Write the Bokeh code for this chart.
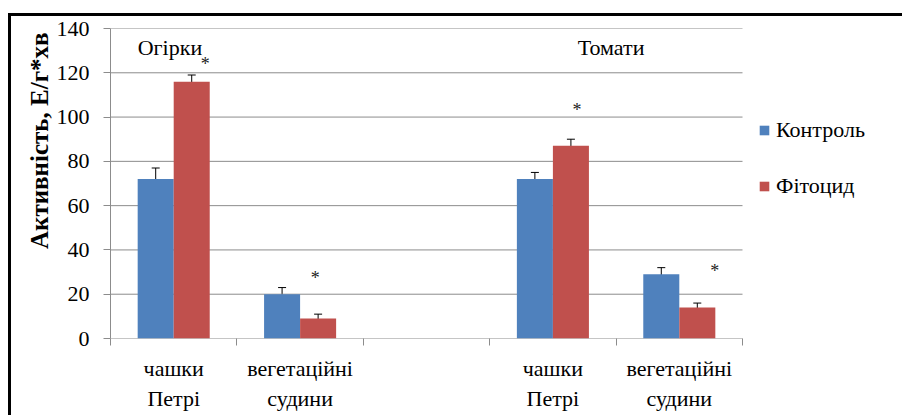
from bokeh.plotting import figure
from bokeh.models import (FixedTicker, Range1d, Whisker, ColumnDataSource, Legend,
                          LegendItem, Title, TeeHead, Label)
from bokeh.embed import file_html
from bokeh.resources import INLINE

# ---- data ----
groups = ["Огірки", "Томати"]
sites = ["чашки\nПетрі", "вегетаційні\nсудини"]
slots = [0, 1, 3, 4]                      # category slots (slot 2 is empty)
n_slots = 5
control = [72, 20, 72, 29]
control_err = [5, 3, 3, 3]
phyto = [116, 9, 87, 14]
phyto_err = [3, 2, 3, 2]
star_y = [124, 27.5, 103, 30.5]
star_dx = [0.25, 0.12, 0.19, 0.28]      # asterisk x within slot (relative to slot centre)
y_ticks = [0, 20, 40, 60, 80, 100, 120, 140]

FONT = "Liberation Serif"
BLUE = "#4F81BD"
RED = "#C0504D"
GRID = "#8C8C8C"

W = 0.285
centers = [s + 0.5 for s in slots]
cx = [c - W / 2 for c in centers]
rx = [c + W / 2 for c in centers]

p = figure(width=894, height=402, output_backend="svg", toolbar_location=None,
           x_range=Range1d(0, n_slots * 795 / 632), y_range=Range1d(0, 140),
           min_border_left=99, min_border_right=0, min_border_top=12,
           min_border_bottom=80)
p.margin = (13, 0, 0, 8)
p.styles = {"border-top": "3px solid black", "border-left": "3px solid black"}
p.outline_line_color = None
p.background_fill_color = "white"

p.segment(x0=[0] * len(y_ticks), x1=[n_slots] * len(y_ticks), y0=y_ticks, y1=y_ticks,
          line_color=GRID, line_width=1)

src_c = ColumnDataSource(dict(x=cx, top=control, up=[v + e for v, e in zip(control, control_err)],
                              lo=[v - e for v, e in zip(control, control_err)]))
src_r = ColumnDataSource(dict(x=rx, top=phyto, up=[v + e for v, e in zip(phyto, phyto_err)],
                              lo=[v - e for v, e in zip(phyto, phyto_err)]))

bc = p.vbar(x="x", top="top", width=W, bottom=0, source=src_c, fill_color=BLUE, line_color=None)
br = p.vbar(x="x", top="top", width=W, bottom=0, source=src_r, fill_color=RED, line_color=None)

for s in (src_c, src_r):
    wk = Whisker(base="x", upper="up", lower="lo", source=s, line_color="black", line_width=1,
                 upper_head=TeeHead(size=8, line_color="black", line_width=1),
                 lower_head=TeeHead(size=8, line_color="black", line_width=1))
    p.add_layout(wk)

# asterisks (significance marks)
for c, d, sy in zip(centers, star_dx, star_y):
    p.add_layout(Label(x=c + d, y=sy, text="*", text_font=FONT, text_font_size="18px",
                       text_align="center", text_baseline="middle", text_color="#222222"))

# group labels
grp_x = [0.47, 3.96]
for gx, g in zip(grp_x, groups):
    p.add_layout(Label(x=gx, y=131.5, text=g, text_font=FONT, text_font_size="22px",
                       text_align="center", text_baseline="middle", text_color="black"))

p.yaxis.ticker = FixedTicker(ticks=y_ticks)
p.yaxis.axis_line_color = GRID
p.yaxis.major_tick_line_color = GRID
p.yaxis.major_tick_out = 7
p.yaxis.major_tick_in = 0
p.yaxis.minor_tick_line_color = None
p.yaxis.major_label_text_font = FONT
p.yaxis.major_label_text_font_size = "22px"
p.yaxis.major_label_text_color = "black"
p.yaxis.major_label_standoff = 14

label_pos = [0.5, 1.5, 3.5, 4.5]
p.xaxis.ticker = FixedTicker(ticks=label_pos, minor_ticks=list(range(n_slots + 1)))
p.xaxis.major_label_overrides = {0.5: sites[0], 1.5: sites[1], 3.5: sites[0], 4.5: sites[1]}
p.xaxis.major_tick_line_color = None
p.xaxis.major_tick_out = 0
p.xaxis.major_tick_in = 0
p.xaxis.minor_tick_line_color = GRID
p.xaxis.minor_tick_out = 7
p.xaxis.minor_tick_in = 0
p.xaxis.axis_line_color = None
p.xaxis.major_label_text_font = FONT
p.xaxis.major_label_text_font_size = "22px"
p.xaxis.major_label_text_color = "black"
p.xaxis.major_label_text_line_height = 1.2
p.xaxis.major_label_standoff = 10

p.xgrid.grid_line_color = None
p.ygrid.grid_line_color = None

ttl = Title(text="Активність, Е/г*хв", align="right", text_font=FONT, text_font_size="25px",
            text_font_style="bold", text_color="black", standoff=2, offset=4)
p.add_layout(ttl, "left")

legend = Legend(items=[LegendItem(label="Контроль", renderers=[bc]),
                       LegendItem(label="Фітоцид", renderers=[br])],
                location=(648, 139), orientation="vertical", padding=0, margin=0,
                border_line_color=None, background_fill_alpha=0,
                glyph_width=12, glyph_height=12, label_standoff=6, spacing=30,
                label_text_font=FONT, label_text_font_size="22px", label_text_color="black")
p.add_layout(legend)

open("out.html", "w").write(file_html(p, INLINE))
